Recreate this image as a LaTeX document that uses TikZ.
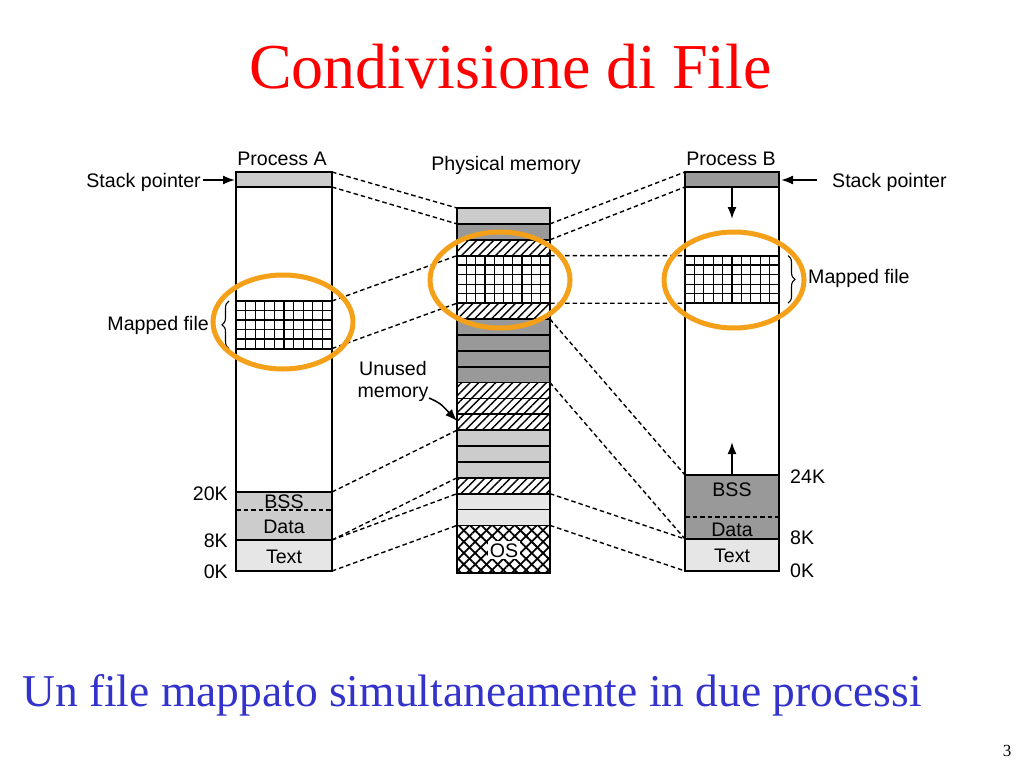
\documentclass[tikz,border=0pt]{standalone}
\usepackage{fontspec}
\setmainfont{Liberation Serif}
\newfontfamily\hv{Liberation Sans}
\usetikzlibrary{patterns.meta,arrows.meta,decorations.pathreplacing}
\definecolor{lgray}{RGB}{204,204,204}
\definecolor{dgray}{RGB}{153,153,153}
\definecolor{vlgray}{RGB}{230,230,230}
\definecolor{orng}{RGB}{245,160,25}
\definecolor{ttlred}{RGB}{255,0,0}
\definecolor{subblue}{RGB}{51,51,204}
\newcommand\meshbox[4]{%
  \fill[white] (#1,#2) rectangle (#3,#4);
  \foreach \i in {1,...,9} \draw[meshline] ({#1+\i*(#3-#1)/10},#2) -- ({#1+\i*(#3-#1)/10},#4);
  \foreach \j in {1,...,4} \draw[meshline] (#1,{#2+\j*(#4-#2)/5}) -- (#3,{#2+\j*(#4-#2)/5});
}
\tikzset{
  meshline/.style={line width=1.3pt},
  segline/.style={line width=1.8pt},
  frame/.style={draw, line width=2pt},
  map/.style={dash pattern=on 4.5pt off 3pt, line width=1.4pt},
  lbl/.style={font=\hv\fontsize{19.6}{22}\selectfont, inner sep=0pt},
  ring/.style={draw=orng, line width=5pt},
  hatch/.style={pattern={Lines[angle=45,distance=6pt,line width=1.4pt]}},
  xhatchA/.style={pattern={Lines[angle=45,distance=8pt,line width=1.8pt]}},
  xhatchB/.style={pattern={Lines[angle=-45,distance=8pt,line width=1.8pt]}},
  ptr/.style={-{Latex[length=12pt,width=9pt]}, line width=1.8pt},
}
\begin{document}
\begin{tikzpicture}[x=1pt,y=-1pt]
\fill[white] (0,0) rectangle (1024,768);
\useasboundingbox (0,0) rectangle (1024,768);

% ---------- titles ----------
\node[anchor=base, inner sep=0pt, text=ttlred, font=\fontsize{64}{70}\selectfont] (title) at (510.5,88) {Condivisione di File};
\node[anchor=base west, inner sep=0pt, text=subblue, font=\fontsize{45.5}{50}\selectfont] (subtitle) at (22,706) {Un file mappato simultaneamente in due processi};
\node[anchor=base, inner sep=0pt, font=\fontsize{17}{19}\selectfont] (pagenum) at (1007,756) {3};

% ---------- Process A ----------
\fill[lgray] (236,172) rectangle (332,187);
\meshbox{236}{301}{332}{348.6}
\fill[lgray] (236,492) rectangle (332,540);
\fill[vlgray] (236,540) rectangle (332,571);
\draw[segline] (236,187) -- (332,187);
\draw[segline] (236,301) -- (332,301);
\draw[segline] (236,348.6) -- (332,348.6);
\draw[segline] (236,492) -- (332,492);
\draw[map] (236,510) -- (332,510);
\draw[segline] (236,540) -- (332,540);
\draw[frame] (236,172) rectangle (332,571);

% ---------- Physical memory ----------
\def\px{457}\def\qx{550}
\fill[lgray] (\px,208) rectangle (\qx,223.9);
\fill[dgray] (\px,223.9) rectangle (\qx,239.7);
\fill[white] (\px,239.7) rectangle (\qx,255.6);
\fill[hatch] (\px,239.7) rectangle (\qx,255.6);
\meshbox{457}{255.6}{550}{303.2}
\fill[white] (\px,303.2) rectangle (\qx,319.1);
\fill[hatch] (\px,303.2) rectangle (\qx,319.1);
\fill[dgray] (\px,319.1) rectangle (\qx,382.6);
\fill[white] (\px,382.6) rectangle (\qx,430.2);
\fill[hatch] (\px,382.6) rectangle (\qx,430.2);
\fill[lgray] (\px,430.2) rectangle (\qx,477.8);
\fill[white] (\px,477.8) rectangle (\qx,493.7);
\fill[hatch] (\px,477.8) rectangle (\qx,493.7);
\fill[vlgray] (\px,493.7) rectangle (\qx,525.4);
\fill[white] (\px,525.4) rectangle (\qx,573);
\fill[xhatchA] (\px,525.4) rectangle (\qx,573);
\fill[xhatchB] (\px,525.4) rectangle (\qx,573);
\foreach \k in {1,2,3,6,7,8,9,10,11,12,13,14,15,16,17,18,19,20}
  \draw[segline] (\px,{208+15.87*\k}) -- (\qx,{208+15.87*\k});
\draw[frame] (\px,208) rectangle (\qx,573);
\node[lbl, anchor=base, fill=white, inner xsep=2pt, inner ysep=2pt] (os) at (504,557) {OS};

% ---------- Process B ----------
\fill[dgray] (685,172) rectangle (779,187);
\meshbox{685}{255.6}{779}{303.2}
\fill[dgray] (685,475) rectangle (779,539);
\fill[vlgray] (685,539) rectangle (779,571);
\draw[segline] (685,187) -- (779,187);
\draw[segline] (685,255.6) -- (779,255.6);
\draw[segline] (685,303.2) -- (779,303.2);
\draw[segline] (685,475) -- (779,475);
\draw[map] (685,517) -- (779,517);
\draw[segline] (685,539) -- (779,539);
\draw[frame] (685,172) rectangle (779,571);

% ---------- coordinates for mappings ----------
\coordinate (a0) at (332,172);
\coordinate (a1) at (332,187);
\coordinate (a2) at (332,301);
\coordinate (a3) at (332,348.6);
\coordinate (a4) at (332,492);
\coordinate (a5) at (332,540);
\coordinate (a6) at (332,571);
\foreach \k in {0,1,2,3,6,7,11,14,17,18,20} {
  \coordinate (pl\k) at (\px,{208+15.87*\k});
  \coordinate (pr\k) at (\qx,{208+15.87*\k});
}
\coordinate (b0) at (685,172);
\coordinate (b1) at (685,187);
\coordinate (b2) at (685,255.6);
\coordinate (b3) at (685,303.2);
\coordinate (b4) at (685,475);
\coordinate (b5) at (685,539);
\coordinate (b6) at (685,571);

\draw[map] (a0) -- (pl0);
\draw[map] (a1) -- (pl1);
\draw[map] (a2) -- (pl3);
\draw[map] (a3) -- (pl6);
\draw[map] (a4) -- (pl14);
\draw[map] (a5) -- (pl17);
\draw[map] (a5) -- (pl18);
\draw[map] (a6) -- (pl20);

\draw[map] (pr1) -- (b0);
\draw[map] (pr2) -- (b1);
\draw[map] (pr3) -- (b2);
\draw[map] (pr6) -- (b3);
\draw[map] (pr7) -- (b4);
\draw[map] (pr11) -- (b5);
\draw[map] (pr18) -- (b5);
\draw[map] (pr20) -- (b6);

% ---------- labels ----------
\node[lbl, anchor=base] (procA) at (282,165) {Process A};
\node[lbl, anchor=base east] (spA) at (201,187) {Stack pointer};
\node[lbl, anchor=base] (physmem) at (506,170) {Physical memory};
\node[lbl, anchor=base] (procB) at (731,165) {Process B};
\node[lbl, anchor=base west] (spB) at (832,187) {Stack pointer};
\node[lbl, anchor=base east] (mfA) at (209,330) {Mapped file};
\node[lbl, anchor=base west] (mfB) at (808,283) {Mapped file};
\node[lbl, anchor=base] (unused1) at (393,375) {Unused};
\node[lbl, anchor=base] (unused2) at (393,397) {memory};
\node[lbl, anchor=base east] (a20k) at (228,500) {20K};
\node[lbl, anchor=base east] (a8k) at (228,547) {8K};
\node[lbl, anchor=base east] (a0k) at (228,578) {0K};
\node[lbl, anchor=base] (bssA) at (284,508) {BSS};
\node[lbl, anchor=base] (dataA) at (284,533) {Data};
\node[lbl, anchor=base] (textA) at (284,563) {Text};
\node[lbl, anchor=base] (bssB) at (732,496) {BSS};
\node[lbl, anchor=base] (dataB) at (732,536) {Data};
\node[lbl, anchor=base] (textB) at (732,562) {Text};
\node[lbl, anchor=base west] (b24k) at (790,483) {24K};
\node[lbl, anchor=base west] (b8k) at (790,544) {8K};
\node[lbl, anchor=base west] (b0k) at (790,577) {0K};

% ---------- arrows ----------
\coordinate (spAtail) at (203,180);
\coordinate (spAtip) at (235,180);
\draw[ptr] (spAtail) -- (spAtip);
\coordinate (spBtip) at (781,180);
\coordinate (spBtail) at (817,180);
\draw[ptr] (spBtail) -- (spBtip);
\coordinate (downS) at (732,187);
\coordinate (downE) at (732,219);
\draw[ptr] (downS) -- (downE);
\coordinate (upS) at (732,475);
\coordinate (upE) at (732,442);
\draw[ptr] (upS) -- (upE);
\coordinate (unS) at (429,398);
\coordinate (unE) at (457,421);
\draw[ptr, line width=1.5pt] (unS) .. controls (440,403) .. (unE);

% ---------- braces ----------
\draw[line width=1.1pt, decorate, decoration={brace, amplitude=7pt}] (229,348.6) -- (229,301);
\draw[line width=1.1pt, decorate, decoration={brace, amplitude=7pt}] (788,255.6) -- (788,303.2);

% ---------- orange highlights ----------
\coordinate (cA) at (283,322);
\coordinate (cP) at (500,280);
\coordinate (cB) at (734,280);
\draw[ring] (cA) ellipse [x radius=70, y radius=47];
\draw[ring] (cP) ellipse [x radius=70, y radius=48];
\draw[ring] (cB) ellipse [x radius=70, y radius=48];
\end{tikzpicture}
\end{document}
